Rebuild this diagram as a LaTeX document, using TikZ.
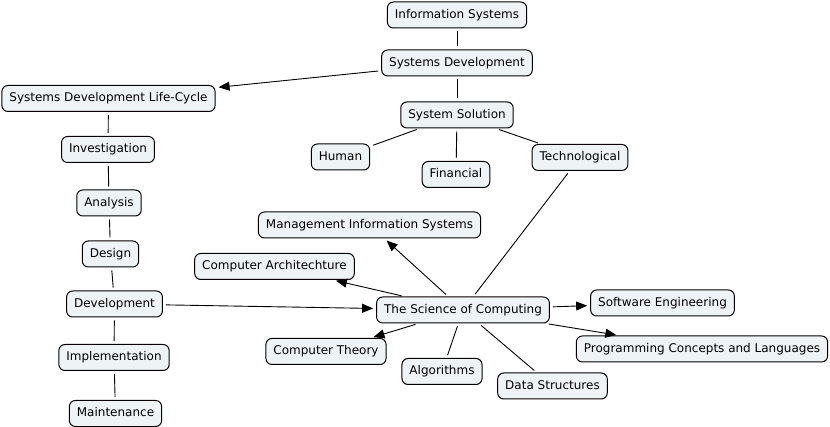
\documentclass[tikz,border=0pt]{standalone}
\usepackage{fontspec}
\setmainfont{DejaVu Sans}
\usetikzlibrary{arrows.meta}
\definecolor{conceptfill}{HTML}{EEF3F5}
\begin{document}
\begin{tikzpicture}[x=1pt,y=-1pt]
      \newcommand{\gap}[0]{3pt}
      \newcommand{\boxheight}[0]{26pt}

      \tikzstyle{concept}=[
        rectangle,
        rounded corners=6pt,
        draw=black,
        fill=conceptfill,
        line width=1pt,
        anchor=center,
        inner xsep=7.5pt,
        inner ysep=0pt,
        minimum height=\boxheight,
        text height=9pt,
        text depth=2pt,
        font=\fontsize{12pt}{14pt}\selectfont,
      ]
      \tikzstyle{link} = [
        line width=0.9pt,
        shorten <=\gap,
        shorten >=\gap,
      ]
      \tikzstyle{arrow} = [
        link,
        -{Triangle[length=11pt,width=9pt]},
      ]

      \useasboundingbox (0,0) rectangle (830,427);

      % top column
      \node[concept] (infosys) at (457,15) {Information Systems};
      \node[concept] (sysdev) at (457,63) {Systems Development};
      \node[concept] (syssol) at (457,115) {System Solution};
      \node[concept] (human) at (340.5,157) {Human};
      \node[concept] (financial) at (456,174.5) {Financial};
      \node[concept] (techno) at (580,157.5) {Technological};

      \draw[link] (infosys) -- (sysdev);
      \draw[link] (sysdev) -- (syssol);
      \draw[link] (syssol) -- (human);
      \draw[link] (syssol) -- (financial);
      \draw[link] (syssol) -- (techno);

      % life-cycle column
      \node[concept] (sdlc) at (108.5,98.5) {Systems Development Life-Cycle};
      \node[concept] (invest) at (108,149.5) {Investigation};
      \node[concept] (analysis) at (109,203) {Analysis};
      \node[concept] (design) at (110.5,254) {Design};
      \node[concept] (develop) at (114.5,304) {Development};
      \node[concept] (implem) at (114,357.5) {Implementation};
      \node[concept] (maint) at (115.5,413.5) {Maintenance};

      \draw[arrow] (sysdev) -- (sdlc);
      \draw[link] (sdlc) -- (invest);
      \draw[link] (invest) -- (analysis);
      \draw[link] (analysis) -- (design);
      \draw[link] (design) -- (develop);
      \draw[link] (develop) -- (implem);
      \draw[link] (implem) -- (maint);

      % science of computing
      \node[concept] (soc) at (463,310) {The Science of Computing};
      \node[concept] (mis) at (369.5,225) {Management Information Systems};
      \node[concept] (comparch) at (274.5,266.5) {Computer Architechture};
      \node[concept] (softeng) at (662.5,303) {Software Engineering};
      \node[concept] (progcl) at (702,349) {Programming Concepts and Languages};
      \node[concept] (comptheory) at (326,351.5) {Computer Theory};
      \node[concept] (algo) at (442,371.5) {Algorithms};
      \node[concept] (datastruct) at (552.5,386) {Data Structures};

      \draw[arrow] (develop) -- (soc);
      \draw[link] (techno) -- (soc);
      \draw[arrow] (soc) -- (mis);
      \draw[arrow] (soc) -- (comparch);
      \draw[arrow] (soc) -- (softeng);
      \draw[arrow] (soc) -- (progcl);
      \draw[arrow] (soc) -- (comptheory);
      \draw[link] (soc) -- (algo);
      \draw[link] (soc) -- (datastruct);
\end{tikzpicture}
\end{document}
